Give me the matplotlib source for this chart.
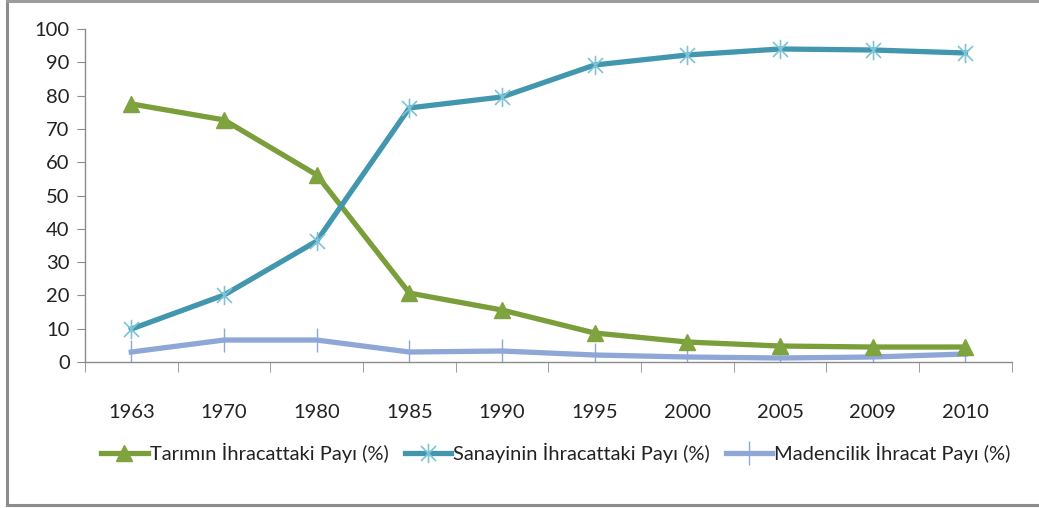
import numpy as np
import matplotlib
matplotlib.use("Agg")
import matplotlib.pyplot as plt
from matplotlib.path import Path
from matplotlib.lines import Line2D

plt.rcParams['font.family'] = ['Lato', 'DejaVu Sans']

years = ['1963', '1970', '1980', '1985', '1990', '1995', '2000', '2005', '2009', '2010']
tarim = [77.5, 72.7, 56.2, 20.7, 15.6, 8.7, 6.0, 4.8, 4.5, 4.5]
sanayi = [9.9, 20.1, 36.3, 76.3, 79.6, 89.2, 92.2, 94.0, 93.7, 92.8]
madencilik = [3.0, 6.6, 6.6, 3.0, 3.3, 2.1, 1.5, 1.2, 1.5, 2.4]
labels = ['Tarımın İhracattaki Payı (%)', 'Sanayinin İhracattaki Payı (%)',
          'Madencilik İhracat Payı (%)']

# excel style star: X plus vertical bar
star = Path([(-1, -1), (1, 1), (-1, 1), (1, -1), (0, -1.3), (0, 1.3)],
            [Path.MOVETO, Path.LINETO, Path.MOVETO, Path.LINETO, Path.MOVETO, Path.LINETO])

fig = plt.figure(figsize=(10.39, 5.08), dpi=100)
ax = fig.add_axes([0.0818, 0.2874, 0.892, 0.6555])

x = np.arange(len(years))
ax.plot(x, tarim, color='#7A9E3A', lw=3.8, marker='^', ms=12,
        mfc='#7FA33E', mec='#7FA33E', label=labels[0], zorder=3)
ax.plot(x, sanayi, color='#4297AE', lw=3.8, marker=star, ms=14,
        mec='#7CC3D6', mew=1.2, label=labels[1], zorder=3)
ax.plot(x, madencilik, color='#8EA7D6', lw=3.8, marker='|', ms=17,
        mec='#8EA7D6', mew=1.0, label=labels[2], zorder=2)

ax.set_xlim(-0.5, len(years) - 0.5)
ax.set_ylim(0, 100)
ax.set_yticks(range(0, 101, 10))
ax.set_xticks(x)
ax.set_xticklabels(years)
ax.set_xticks(np.arange(-0.5, len(years), 1), minor=True)
ax.tick_params(axis='x', which='major', length=0, pad=30, labelsize=14.5, colors='#222222')
ax.tick_params(axis='x', which='minor', length=7, color='#8C8C8C', direction='out')
ax.tick_params(axis='y', length=6, color='#8C8C8C', pad=5, labelsize=14.5, labelcolor='#222222')
for s in ['top', 'right']:
    ax.spines[s].set_visible(False)
for s in ['left', 'bottom']:
    ax.spines[s].set_color('#8C8C8C')
    ax.spines[s].set_linewidth(1.0)

leg = fig.legend(loc='center', bbox_to_anchor=(0.535, 0.108), ncol=3, frameon=False,
                 fontsize=14.5, handlelength=2.3, handletextpad=0.1, columnspacing=0.8)
for t in leg.get_texts():
    t.set_color('#222222')

# outer chart frame
fig.add_artist(Line2D([0.0068, 0.0068], [0.006, 0.999], color='#8C8C8C', lw=2.2))
fig.add_artist(Line2D([0.0068, 1.0], [0.999, 0.999], color='#9C9C9C', lw=2.2))
fig.add_artist(Line2D([0.0068, 1.0], [0.006, 0.006], color='#8C8C8C', lw=2.2))

fig.savefig('out.png', dpi=100)
